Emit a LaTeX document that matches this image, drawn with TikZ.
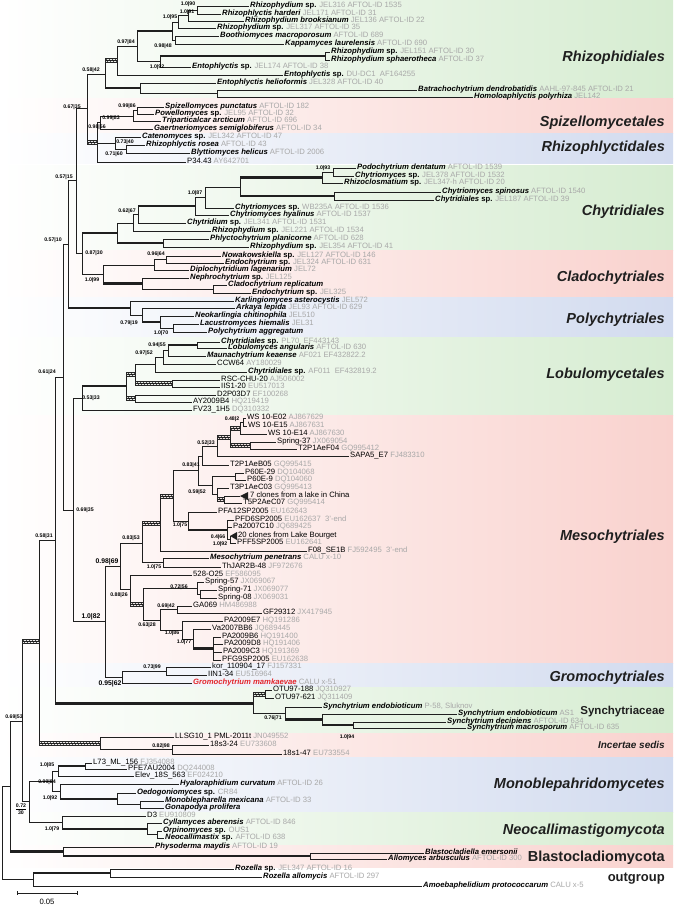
\documentclass[tikz,border=0pt]{standalone}
\usepackage{fontspec}
\setmainfont{Liberation Sans}
\usetikzlibrary{calc,patterns}
\definecolor{accgray}{HTML}{A8A8A8}
\definecolor{bandgreen}{HTML}{D6ECD1}
\definecolor{bandpink}{HTML}{F9D2CE}
\definecolor{bandblue}{HTML}{D2DBEF}
\definecolor{gromored}{HTML}{E3262B}
\newcommand{\taxon}[1]{\textbf{\textit{#1}}}
\newcommand{\accn}[1]{\textcolor{accgray}{#1}}
\newcommand{\spx}{\textbf{sp.}}

\begin{document}
\begin{tikzpicture}[
    x=1pt, y=-1pt,
    branch/.style={line width=0.85pt, black!88},
    thickbr/.style={line width=2.4pt, black!88},
    hatchbr/.style={draw=black!85, line width=0.4pt, pattern=north east lines, pattern color=black!85},
    leaf/.style={anchor=west, inner sep=1pt, text height=5.4pt, text depth=1.5pt, font=\fontsize{7.7}{8}\selectfont},
    supp/.style={inner sep=0pt, font=\fontsize{5.2}{5.5}\selectfont\bfseries},
    suppbig/.style={inner sep=0pt, font=\fontsize{6.8}{7}\selectfont\bfseries},
    order/.style={anchor=east, inner sep=0pt, text height=10.4pt, text depth=0pt, text=black!88, font=\fontsize{14.5}{15}\selectfont\bfseries\itshape}
  ]
  \useasboundingbox (0,0) rectangle (673,910);
  \fill[white] (0,0) rectangle (673,910);
  \fill[left color=white, right color=bandgreen] (0,0) rectangle (673,98);
  \fill[left color=white, right color=bandpink] (0,98) rectangle (673,133);
  \fill[left color=white, right color=bandblue] (0,133) rectangle (673,163);
  \fill[left color=white, right color=bandgreen] (0,165) rectangle (673,250);
  \fill[left color=white, right color=bandpink] (0,250) rectangle (673,297);
  \fill[left color=white, right color=bandblue] (0,297) rectangle (673,337);
  \fill[left color=white, right color=bandgreen] (0,337) rectangle (673,415);
  \fill[left color=white, right color=bandpink] (0,415) rectangle (673,663);
  \fill[left color=white, right color=bandblue] (0,663) rectangle (673,687);
  \fill[left color=white, right color=bandgreen] (0,687) rectangle (673,733);
  \fill[left color=white, right color=bandpink] (0,733) rectangle (673,757);
  \fill[left color=white, right color=bandblue] (0,757) rectangle (673,812);
  \fill[left color=white, right color=bandgreen] (0,812) rectangle (673,845);
  \fill[left color=white, right color=bandpink] (0,845) rectangle (673,867);

  \node[order] (oRhizo) at (665,56) {Rhizophidiales};
  \node[order] (oSpiz) at (665,121) {Spizellomycetales};
  \node[order] (oRhphl) at (665,146) {Rhizophlyctidales};
  \node[order] (oChyt) at (665,210) {Chytridiales};
  \node[order] (oClad) at (665,276) {Cladochytriales};
  \node[order] (oPoly) at (665,318) {Polychytriales};
  \node[order] (oLobu) at (665,373) {Lobulomycetales};
  \node[order] (oMeso) at (665,535) {Mesochytriales};
  \node[order] (oGrom) at (665,676) {Gromochytriales};
  \node[order, text height=8.3pt, font=\fontsize{11.5}{12}\selectfont\bfseries] (oSync) at (665,710) {Synchytriaceae};
  \node[order, text height=7.2pt, font=\fontsize{10}{11}\selectfont\bfseries\itshape] (oInc) at (665,745) {Incertae sedis};
  \node[order] (oMono) at (665,783) {Monoblepahridomycetes};
  \node[order] (oNeo) at (665,829) {Neocallimastigomycota};
  \node[order, font=\fontsize{14.5}{15}\selectfont\bfseries] (oBlas) at (665,856) {Blastocladiomycota};
  \node[order, text height=9.4pt, font=\fontsize{13}{14}\selectfont\bfseries] (oOut) at (665,877) {outgroup};

  \node[leaf] (l01) at (249,6) {\taxon{Rhizophydium} \spx{} \accn{JEL316 AFTOL-ID 1535}};
  \node[leaf] (l02) at (221,14) {\taxon{Rhizophlyctis harderi} \accn{JEL171 AFTOL-ID 31}};
  \node[leaf] (l03) at (244,21) {\taxon{Rhizophydium brooksianum} \accn{JEL136 AFTOL-ID 22}};
  \node[leaf] (l04) at (216,28) {\taxon{Rhizophydium} \spx{} \accn{JEL317 AFTOL-ID 35}};
  \node[leaf] (l05) at (219,36) {\taxon{Boothiomyces macroporosum} \accn{AFTOL-ID 689}};
  \node[leaf] (l06) at (284,44) {\taxon{Kappamyces laurelensis} \accn{AFTOL-ID 690}};
  \node[leaf] (l07) at (330,52) {\taxon{Rhizophydium} \spx{} \accn{JEL151 AFTOL-ID 30}};
  \node[leaf] (l08) at (330,60) {\taxon{Rhizophydium sphaerotheca} \accn{AFTOL-ID 37}};
  \node[leaf] (l09) at (191,67) {\taxon{Entophlyctis} \spx{} \accn{JEL174 AFTOL-ID 38}};
  \node[leaf] (l10) at (283,75) {\taxon{Entophlyctis} \spx{} \accn{DU-DC1~~AF164255}};
  \node[leaf] (l11) at (216,83) {\taxon{Entophlyctis helioformis} \accn{JEL328 AFTOL-ID 40}};
  \node[leaf] (l12) at (417,90) {\taxon{Batrachochytrium dendrobatidis} \accn{AAHL-97-845 AFTOL-ID 21}};
  \node[leaf] (l13) at (473,97) {\taxon{Homoloaphlyctis polyrhiza} \accn{JEL142}};
  \node[leaf] (l14) at (164,107) {\taxon{Spizellomyces punctatus} \accn{AFTOL-ID 182}};
  \node[leaf] (l15) at (154,114) {\taxon{Powellomyces} \spx{} \accn{JEL95 AFTOL-ID 32}};
  \node[leaf] (l16) at (161,121) {\taxon{Triparticalcar arcticum} \accn{AFTOL-ID 696}};
  \node[leaf] (l17) at (153,129) {\taxon{Gaertneriomyces semiglobiferus} \accn{AFTOL-ID 34}};
  \node[leaf] (l18) at (141,137) {\taxon{Catenomyces} \spx{} \accn{JEL342 AFTOL-ID 47}};
  \node[leaf] (l19) at (145,145) {\taxon{Rhizophlyctis rosea} \accn{AFTOL-ID 43}};
  \node[leaf] (l20) at (190,153) {\taxon{Blyttiomyces helicus} \accn{AFTOL-ID 2006}};
  \node[leaf] (l21) at (186,162) {P34.43 \accn{AY642701}};
  \node[leaf] (l22) at (356,168) {\taxon{Podochytrium dentatum} \accn{AFTOL-ID 1539}};
  \node[leaf] (l23) at (354,176) {\taxon{Chytriomyces} \spx{} \accn{JEL378 AFTOL-ID 1532}};
  \node[leaf] (l24) at (343,183) {\taxon{Rhizoclosmatium} \spx{} \accn{JEL347-h AFTOL-ID 20}};
  \node[leaf] (l25) at (441,192) {\taxon{Chytriomyces spinosus} \accn{AFTOL-ID 1540}};
  \node[leaf] (l26) at (434,200) {\taxon{Chytridiales} \spx{} \accn{JEL187 AFTOL-ID 39}};
  \node[leaf] (l27) at (234,208) {\taxon{Chytriomyces} \spx{} \accn{WB235A AFTOL-ID 1536}};
  \node[leaf] (l28) at (229,215) {\taxon{Chytriomyces hyalinus} \accn{AFTOL-ID 1537}};
  \node[leaf] (l29) at (186,223) {\taxon{Chytridium} \spx{} \accn{JEL341 AFTOL-ID 1531}};
  \node[leaf] (l30) at (211,231) {\taxon{Rhizophydium} \spx{} \accn{JEL221 AFTOL-ID 1534}};
  \node[leaf] (l31) at (209,239) {\taxon{Phlyctochytrium planicorne} \accn{AFTOL-ID 628}};
  \node[leaf] (l32) at (249,247) {\taxon{Rhizophydium} \spx{} \accn{JEL354 AFTOL-ID 41}};
  \node[leaf] (l33) at (221,256) {\taxon{Nowakowskiella} \spx{} \accn{JEL127 AFTOL-ID 146}};
  \node[leaf] (l34) at (224,263) {\taxon{Endochytrium} \spx{} \accn{JEL324 AFTOL-ID 631}};
  \node[leaf] (l35) at (189,270) {\taxon{Diplochytridium lagenarium} \accn{JEL72}};
  \node[leaf] (l36) at (189,278) {\taxon{Nephrochytrium} \spx{} \accn{JEL125}};
  \node[leaf] (l37) at (227,285) {\taxon{Cladochytrium replicatum}};
  \node[leaf] (l38) at (251,293) {\taxon{Endochytrium} \spx{} \accn{JEL325}};
  \node[leaf] (l39) at (234,301) {\taxon{Karlingiomyces asterocystis} \accn{JEL572}};
  \node[leaf] (l40) at (235,308) {\taxon{Arkaya lepida} \accn{JEL93 AFTOL-ID 629}};
  \node[leaf] (l41) at (194,316) {\taxon{Neokarlingia chitinophila} \accn{JEL510}};
  \node[leaf] (l42) at (199,324) {\taxon{Lacustromyces hiemalis} \accn{JEL31}};
  \node[leaf] (l43) at (207,332) {\taxon{Polychytrium aggregatum}};
  \node[leaf] (l44) at (220,342) {\taxon{Chytridiales} \spx{} \accn{PL70~~EF443143}};
  \node[leaf] (l45) at (227,348) {\taxon{Lobulomyces angularis} \accn{AFTOL-ID 630}};
  \node[leaf] (l46) at (206,356) {\taxon{Maunachytrium keaense} \accn{AF021 EF432822.2}};
  \node[leaf] (l47) at (216,364) {CCW64 \accn{AY180029}};
  \node[leaf] (l48) at (247,372) {\taxon{Chytridiales} \spx{} \accn{AF011~~EF432819.2}};
  \node[leaf] (l49) at (220,380) {RSC-CHU-20 \accn{AJ506002}};
  \node[leaf] (l50) at (220,387) {IIS1-20 \accn{EU517013}};
  \node[leaf] (l51) at (216,395) {D2P03D7 \accn{EF100268}};
  \node[leaf] (l52) at (192,402) {AY2009B4 \accn{HQ219419}};
  \node[leaf] (l53) at (192,410) {FV23\_1H5 \accn{DQ310332}};
  \node[leaf] (l54) at (246,418) {WS 10-E02 \accn{AJ867629}};
  \node[leaf] (l55) at (247,426) {WS 10-E15 \accn{AJ867631}};
  \node[leaf] (l56) at (267,434) {WS 10-E14 \accn{AJ867630}};
  \node[leaf] (l57) at (276,442) {Spring-37 \accn{JX069054}};
  \node[leaf] (l58) at (297,449) {T2P1AeF04 \accn{GQ995412}};
  \node[leaf] (l59) at (349,456) {SAPA5\_E7 \accn{FJ483310}};
  \node[leaf] (l60) at (229,465) {T2P1AeB05 \accn{GQ995415}};
  \node[leaf] (l61) at (244,473) {P60E-29 \accn{DQ104068}};
  \node[leaf] (l62) at (246,480) {P60E-9 \accn{DQ104060}};
  \node[leaf] (l63) at (229,488) {T3P1AeC03 \accn{GQ995413}};
  \coordinate (t64) at (240,496);
  \node[leaf] (l64) at (249,496) {7 clones from a lake in China};
  \node[leaf] (l65) at (242,503) {T5P2AeC07 \accn{GQ995414}};
  \node[leaf] (l66) at (217,512) {PFA12SP2005 \accn{EU162643}};
  \node[leaf] (l67) at (234,520) {PFD6SP2005 \accn{EU162637~~3'-end}};
  \node[leaf] (l68) at (232,527) {Pa2007C10 \accn{JQ689425}};
  \coordinate (t69) at (230,536);
  \node[leaf] (l69) at (237,536) {20 clones from Lake Bourget};
  \node[leaf] (l70) at (236,543) {PFF5SP2005 \accn{EU162641}};
  \node[leaf] (l71) at (307,551) {F08\_SE1B \accn{FJ592495~~3'-end}};
  \node[leaf] (l72) at (209,558) {\taxon{Mesochytrium penetrans} \accn{CALU x-10}};
  \node[leaf] (l73) at (221,567) {ThJAR2B-48 \accn{JF972676}};
  \node[leaf] (l74) at (192,575) {528-O25 \accn{EF586095}};
  \node[leaf] (l75) at (204,582) {Spring-57 \accn{JX069067}};
  \node[leaf] (l76) at (217,590) {Spring-71 \accn{JX069077}};
  \node[leaf] (l77) at (217,598) {Spring-08 \accn{JX069031}};
  \node[leaf] (l78) at (192,606) {GA069 \accn{HM486988}};
  \node[leaf] (l79) at (262,613) {GF29312 \accn{JX417945}};
  \node[leaf] (l80) at (223,621) {PA2009E7 \accn{HQ191286}};
  \node[leaf] (l81) at (211,629) {Va2007BB6 \accn{JQ689445}};
  \node[leaf] (l82) at (221,637) {PA2009B6 \accn{HQ191400}};
  \node[leaf] (l83) at (223,644) {PA2009D8 \accn{HQ191406}};
  \node[leaf] (l84) at (222,652) {PA2009C3 \accn{HQ191369}};
  \node[leaf] (l85) at (221,660) {PFG9SP2005 \accn{EU162638}};
  \node[leaf] (l86) at (211,667) {kor\_110904\_17 \accn{FJ157331}};
  \node[leaf] (l87) at (207,675) {IIN1-34 \accn{EU516964}};
  \node[leaf] (l88) at (192,683) {\textcolor{gromored}{\taxon{Gromochytrium mamkaevae}} \accn{CALU x-51}};
  \node[leaf] (l89) at (272,690) {OTU97-188 \accn{JQ310927}};
  \node[leaf] (l90) at (274,698) {OTU97-621 \accn{JQ311409}};
  \node[leaf] (l91) at (322,707) {\taxon{Synchytrium endobioticum} \accn{P-58, Sluknov}};
  \node[leaf] (l92) at (457,714) {\taxon{Synchytrium endobioticum} \accn{AS1}};
  \node[leaf] (l93) at (446,722) {\taxon{Synchytrium decipiens} \accn{AFTOL-ID 634}};
  \node[leaf] (l94) at (466,728) {\taxon{Synchytrium macrosporum} \accn{AFTOL-ID 635}};
  \node[leaf] (l95) at (174,737) {LLSG10\_1 PML-2011t \accn{JN049552}};
  \node[leaf] (l96) at (209,745) {18s3-24 \accn{EU733608}};
  \node[leaf] (l97) at (282,754) {18s1-47 \accn{EU733554}};
  \node[leaf] (l98) at (92,763) {L73\_ML\_156 \accn{FJ354088}};
  \node[leaf] (l99) at (127,769) {PFE7AU2004 \accn{DQ244008}};
  \node[leaf] (l100) at (134,776) {Elev\_18S\_563 \accn{EF024210}};
  \node[leaf] (l101) at (179,784) {\taxon{Hyaloraphidium curvatum} \accn{AFTOL-ID 26}};
  \node[leaf] (l102) at (136,793) {\taxon{Oedogoniomyces} \spx{} \accn{CR84}};
  \node[leaf] (l103) at (164,801) {\taxon{Monoblepharella mexicana} \accn{AFTOL-ID 33}};
  \node[leaf] (l104) at (164,808) {\taxon{Gonapodya prolifera}};
  \node[leaf] (l105) at (146,816) {D3 \accn{EU910809}};
  \node[leaf] (l106) at (162,823) {\taxon{Cyllamyces aberensis} \accn{AFTOL-ID 846}};
  \node[leaf] (l107) at (162,831) {\taxon{Orpinomyces} \spx{} \accn{OUS1}};
  \node[leaf] (l108) at (164,838) {\taxon{Neocallimastix} \spx{} \accn{AFTOL-ID 638}};
  \node[leaf] (l109) at (154,847) {\taxon{Physoderma maydis} \accn{AFTOL-ID 19}};
  \node[leaf] (l110) at (424,853) {\taxon{Blastocladiella emersonii}};
  \node[leaf] (l111) at (387,859) {\taxon{Allomyces arbusculus} \accn{AFTOL-ID 300}};
  \node[leaf] (l112) at (234,869) {\taxon{Rozella} \spx{} \accn{JEL347 AFTOL-ID 16}};
  \node[leaf] (l113) at (262,877) {\taxon{Rozella allomycis} \accn{AFTOL-ID 297}};
  \node[leaf] (l114) at (422,886) {\taxon{Amoebaphelidium protococcarum} \accn{CALU x-5}};

  \coordinate (r12) at (197,10);
  \coordinate (r13) at (188,15.5);
  \coordinate (r14) at (178,22);
  \coordinate (r56) at (175,40);
  \coordinate (rB) at (172,31);
  \coordinate (r78) at (325,56);
  \coordinate (rE) at (160,61.5);
  \coordinate (rA) at (137,46);
  \coordinate (rA2) at (117,60.5);
  \coordinate (rH) at (217,93.5);
  \coordinate (rH2) at (140,88);
  \coordinate (rR) at (105,74);
  \coordinate (s1415) at (137,110.5);
  \coordinate (s1416) at (133,116);
  \coordinate (s1417) at (100,122.5);
  \coordinate (h1) at (126,149);
  \coordinate (h2) at (115,143);
  \coordinate (sS) at (97,142);
  \coordinate (pP) at (87,108);
  \coordinate (qQ) at (76,180.5);
  \coordinate (c2223) at (333,172);
  \coordinate (c0) at (322,177.5);
  \coordinate (cS) at (334,196);
  \coordinate (c1) at (240,187);
  \coordinate (c2) at (205,197.5);
  \coordinate (c3) at (195,206);
  \coordinate (c4) at (138,214.5);
  \coordinate (c5) at (133,223);
  \coordinate (c6) at (163,243);
  \coordinate (c7) at (117,233);
  \coordinate (d1) at (166,259.5);
  \coordinate (d2) at (154,265);
  \coordinate (d3) at (213,289);
  \coordinate (d4) at (142,283.5);
  \coordinate (d5) at (103,274);
  \coordinate (cChy) at (82,253.5);
  \coordinate (p4) at (173,328);
  \coordinate (p3) at (160,322);
  \coordinate (p2) at (142,315);
  \coordinate (p1) at (130,308);
  \coordinate (hH) at (68,244);
  \coordinate (o1) at (197,345);
  \coordinate (o2) at (168,350.5);
  \coordinate (o3) at (163,357);
  \coordinate (o4) at (155,364.5);
  \coordinate (o5) at (172,383.5);
  \coordinate (o6) at (135,374);
  \coordinate (o8) at (135,398.5);
  \coordinate (o7) at (126,386);
  \coordinate (o9) at (82,398);
  \coordinate (w1) at (243,422);
  \coordinate (w2) at (240,428);
  \coordinate (sp1) at (250,445.5);
  \coordinate (w3) at (230,437);
  \coordinate (w4) at (217,446.5);
  \coordinate (w5) at (202,456);
  \coordinate (p60) at (235,476.5);
  \coordinate (t5) at (224,499.5);
  \coordinate (t3) at (217,494);
  \coordinate (t2) at (212,485);
  \coordinate (w6) at (198,470.5);
  \coordinate (pf1) at (230,539.5);
  \coordinate (pf2) at (227,530);
  \coordinate (pf3) at (188,521);
  \coordinate (w7) at (173,496);
  \coordinate (w8) at (160,523.5);
  \coordinate (mp) at (163,562.5);
  \coordinate (w9) at (142,543);
  \coordinate (sp71) at (200,594);
  \coordinate (sp57) at (197,588);
  \coordinate (ga) at (177,609.5);
  \coordinate (pa1) at (213,648.5);
  \coordinate (pa2) at (193,639);
  \coordinate (pa3) at (182,630);
  \coordinate (gb) at (160,620);
  \coordinate (gc) at (143,604);
  \coordinate (gd) at (130,589.5);
  \coordinate (w10) at (120,566);
  \coordinate (g1) at (166,671);
  \coordinate (g2) at (122,677);
  \coordinate (mg) at (105,621.5);
  \coordinate (mM) at (73,510);
  \coordinate (gG) at (63,377);
  \coordinate (ot) at (265,694);
  \coordinate (sd) at (353,725);
  \coordinate (s2) at (322,719.5);
  \coordinate (s3) at (285,713);
  \coordinate (sy) at (253,703.5);
  \coordinate (eE) at (55,540);
  \coordinate (i18) at (172,749.5);
  \coordinate (iS) at (100,743);
  \coordinate (cC) at (39,641.5);
  \coordinate (m1) at (85,766);
  \coordinate (m2) at (58,771);
  \coordinate (mg2) at (140,804.5);
  \coordinate (mo) at (117,798.75);
  \coordinate (mh) at (60,791.5);
  \coordinate (mono) at (52,781);
  \coordinate (nor) at (157,834.5);
  \coordinate (ncy) at (147,828.75);
  \coordinate (nneo) at (62,822.4);
  \coordinate (mn) at (29,801.7);
  \coordinate (bB) at (22,721.6);
  \coordinate (bl2) at (310,856);
  \coordinate (bl) at (63,851.5);
  \coordinate (aA) at (10,786.5);
  \coordinate (roz) at (110,873);
  \coordinate (out) at (33,879.5);
  \coordinate (root) at (2,833);

  \foreach \p/\c in {r12/l01, r12/l02, r13/r12, r13/l03, r14/r13, r14/l04, r56/l05, r56/l06,
      rB/r14, rB/r56, r78/l07, r78/l08, rE/r78, rE/l09, rA/rB, rA/rE, rA2/rA, rA2/l10,
      rH/l12, rH/l13, rH2/l11, rH2/rH, rR/rA2, rR/rH2,
      s1415/l14, s1415/l15, s1416/s1415, s1416/l16, s1417/s1416, s1417/l17,
      h1/l19, h1/l20, h2/l18, h2/h1, sS/s1417, sS/h2, sS/l21, pP/rR, pP/sS, qQ/pP, qQ/cChy,
      c2223/l22, c2223/l23, c0/c2223, c0/l24, cS/l25, cS/l26, c1/c0, c1/cS, c2/c1, c2/l27,
      c3/c2, c3/l28, c4/c3, c4/l29, c5/c4, c5/l30, c6/l31, c6/l32, c7/c5, c7/c6,
      d1/l33, d1/l34, d2/d1, d2/l35, d3/l37, d3/l38, d4/l36, d4/d3, d5/d2, d5/d4, cChy/c7, cChy/d5,
      p4/l42, p4/l43, p3/l41, p3/p4, p2/l40, p2/p3, p1/l39, p1/p2, hH/qQ, hH/p1,
      o1/l44, o1/l45, o2/o1, o2/l46, o3/o2, o3/l47, o4/o3, o4/l48, o5/l49, o5/l50,
      o6/o4, o6/o5, o8/l51, o8/l52, o7/o6, o7/o8, o9/o7, o9/l53,
      w1/l54, w1/l55, w2/w1, w2/l56, sp1/l57, sp1/l58, w3/w2, w3/sp1, w4/w3, w4/l59,
      w5/w4, w5/l60, p60/l61, p60/l62, t5/t64, t5/l65, t3/l63, t3/t5, t2/p60, t2/t3,
      w6/w5, w6/t2, pf1/t69, pf1/l70, pf2/l67, pf2/l68, pf2/pf1, pf3/l66, pf3/pf2,
      w7/w6, w7/pf3, w8/w7, w8/l71, mp/l72, mp/l73, w9/w8, w9/mp,
      sp71/l76, sp71/l77, sp57/l75, sp57/sp71, ga/l78, ga/l79,
      pa1/l82, pa1/l83, pa1/l84, pa1/l85, pa2/l81, pa2/pa1, pa3/l80, pa3/pa2,
      gb/ga, gb/pa3, gc/sp57, gc/gb, gd/l74, gd/gc, w10/w9, w10/gd,
      g1/l86, g1/l87, g2/g1, g2/l88, mg/w10, mg/g2, mM/o9, mM/mg, gG/hH, gG/mM,
      ot/l89, ot/l90, sd/l93, sd/l94, s2/l92, s2/sd, s3/l91, s3/s2, sy/ot, sy/s3, eE/gG, eE/sy,
      i18/l96, i18/l97, iS/l95, iS/i18, cC/eE, cC/iS,
      m1/l98, m1/l99, m2/m1, m2/l100, mg2/l103, mg2/l104, mo/l102, mo/mg2, mh/l101, mh/mo,
      mono/m2, mono/mh, nor/l107, nor/l108, ncy/l106, ncy/nor, nneo/l105, nneo/ncy,
      mn/mono, mn/nneo, bB/cC, bB/mn, bl2/l110, bl2/l111, bl/l109, bl/bl2, aA/bB, aA/bl,
      roz/l112, roz/l113, out/roz, out/l114, root/aA, root/out}
    \draw[branch] (\p) |- (\c);

  \foreach \p/\c in {rA/rB, rE/r78, rR/rH2, c1/c0, c1/cS, c4/c3, c7/c6, cChy/c7, d5/d4,
      hH/p1, p2/p3, o2/o1, o9/o7, pf3/pf2, pa2/pa1, s3/s2, s2/sd, eE/sy, m2/m1, mh/mo,
      nneo/ncy, aA/bl, bl/bl2, out/roz}
    \draw[thickbr] (\p |- \c) -- (\c);

  \foreach \p/\c in {rR/rA2, pP/sS, o6/o5, o7/o6, o7/o8, w3/w2, w3/sp1, w4/w3, t3/t5,
      w8/w7, w9/w8, gd/gc, sy/ot, cC/iS, bB/cC}
    \path[hatchbr] ($(\p |- \c)+(0,-2)$) rectangle ($(\c)+(0,2)$);

  \fill[black!88] (t64) -- ++(8,-4) -- ++(0,8) -- cycle;
  \fill[black!88] (t69) -- ++(7,-4) -- ++(0,8) -- cycle;

  \node[supp] (b01) at (188,4) {1.0|90};
  \node[supp] (b02) at (187,12) {1.0|91};
  \node[supp] (b03) at (170,17) {1.0|95};
  \node[supp] (b04) at (126,42) {0.97|84};
  \node[supp] (b05) at (163,46) {0.98|48};
  \node[supp] (b06) at (157,67) {1.0|92};
  \node[supp] (b07) at (91,70) {0.58|42};
  \node[supp] (b08) at (127,106) {0.99|86};
  \node[supp] (b09) at (111,118) {0.99|83};
  \node[supp] (b10) at (72,107) {0.67|35};
  \node[supp] (b11) at (97,127) {0.98|56};
  \node[supp] (b12) at (125,142) {0.73|40};
  \node[supp] (b13) at (114,154) {0.71|60};
  \node[supp] (b14) at (323,168) {1.0|93};
  \node[supp] (b15) at (64,177) {0.57|15};
  \node[supp] (b16) at (195,193) {1.0|87};
  \node[supp] (b17) at (127,211) {0.62|67};
  \node[supp] (b18) at (53,240) {0.57|10};
  \node[supp] (b19) at (94,253) {0.87|30};
  \node[supp] (b20) at (156,254) {0.96|64};
  \node[supp] (b21) at (92,280) {1.0|99};
  \node[supp] (b22) at (129,323) {0.79|19};
  \node[supp] (b23) at (161,333) {1.0|70};
  \node[supp] (b24) at (157,345) {0.94|55};
  \node[supp] (b25) at (144,353) {0.97|52};
  \node[supp] (b26) at (47,372) {0.61|24};
  \node[supp] (b27) at (91,398) {0.53|33};
  \node[supp] (b28) at (232,419) {0.48|2};
  \node[supp] (b29) at (206,443) {0.52|33};
  \node[supp] (b30) at (191,465) {0.83|41};
  \node[supp] (b31) at (197,492) {0.59|52};
  \node[supp] (b32) at (85,510) {0.69|35};
  \node[supp] (b33) at (44,536) {0.58|31};
  \node[supp] (b34) at (180,525) {1.0|75};
  \node[supp] (b35) at (218,537) {0.4|66};
  \node[supp] (b36) at (220,544) {1.0|92};
  \node[supp] (b37) at (131,538) {0.83|53};
  \node[suppbig] (b38) at (107,562) {0.98|69};
  \node[supp] (b39) at (154,567) {1.0|75};
  \node[supp] (b40) at (179,587) {0.72|56};
  \node[supp] (b41) at (119,595) {0.88|26};
  \node[suppbig] (b42) at (91,617) {1.0|82};
  \node[supp] (b43) at (166,606) {0.69|42};
  \node[supp] (b44) at (147,625) {0.63|28};
  \node[supp] (b45) at (172,633) {1.0|86};
  \node[supp] (b46) at (184,642) {1.0|77};
  \node[supp] (b47) at (152,667) {0.73|99};
  \node[suppbig] (b48) at (110,684) {0.95|62};
  \node[supp] (b49) at (273,718) {0.76|71};
  \node[supp] (b50) at (14,717) {0.69|53};
  \node[supp] (b51) at (161,746) {0.82|98};
  \node[supp] (b52) at (347,737) {1.0|94};
  \node[supp] (b53) at (47,765) {1.0|85};
  \node[supp] (b54) at (47,782) {0.99|84};
  \node[supp] (b55) at (50,798) {1.0|92};
  \node[supp, align=center] (b56) at (21,809) {\underline{0.72}\\30};
  \node[supp] (b57) at (52,829) {1.0|79};

  \coordinate (sbL) at (17,893);
  \coordinate (sbR) at (77,893);
  \draw[branch] (sbL) -- (sbR);
  \draw[branch] ($(sbL)+(0,-2)$) -- ($(sbL)+(0,2)$);
  \draw[branch] ($(sbR)+(0,-2)$) -- ($(sbR)+(0,2)$);
  \node[font=\fontsize{7.7}{8}\selectfont, inner sep=0pt] (sbT) at (47,902) {0.05};
\end{tikzpicture}
\end{document}
